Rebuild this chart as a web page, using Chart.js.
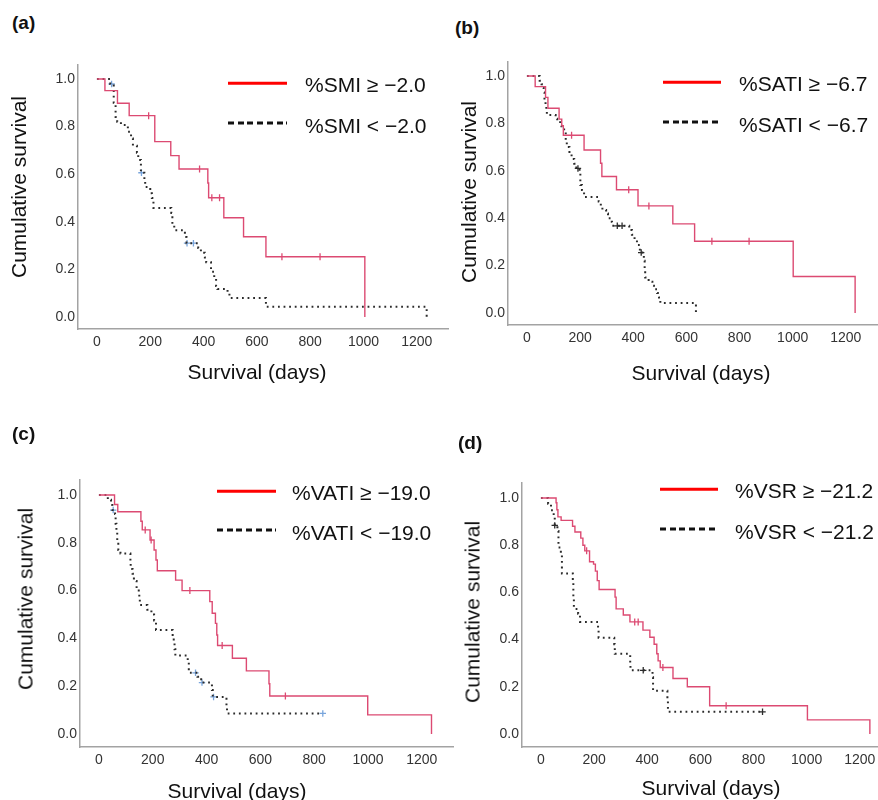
<!DOCTYPE html>
<html>
<head>
<meta charset="utf-8">
<script src="https://cdn.jsdelivr.net/npm/chart.js@4.4.0/dist/chart.umd.min.js"></script>
<style>
  body { margin: 0; background: #fff; }
  #page { position: relative; width: 878px; height: 800px; overflow: hidden;
          font-family: 'Liberation Sans', Arial, sans-serif; color: #111; }
  .panel-canvas { position: absolute; }
  .lbl { position: absolute; font-weight: bold; font-size: 19px; line-height: 1; transform: translateY(-50%); }
  .ytitle { position: absolute; font-size: 21px; line-height: 1; white-space: nowrap; transform: translate(-50%, -50%) rotate(-90deg); }
  .xtitle { position: absolute; font-size: 21px; line-height: 1; white-space: nowrap; transform: translate(-50%, -50%); }
  .legtext { position: absolute; font-size: 21px; line-height: 1; white-space: nowrap; transform: translateY(-50%); }
  .legline { position: absolute; height: 3px; transform: translateY(-50%); }
  .legline.solid { background: #ff0000; height: 2.5px; }
  .legline.dash { background: repeating-linear-gradient(90deg, #111 0 6px, transparent 6px 9.7px); }
</style>
</head>
<body>
<div id="page"></div>
<script>
// --- Axis ticks ---
const xTickValues = [0, 200, 400, 600, 800, 1000, 1200];
const yTickValues = [0, 0.2, 0.4, 0.6, 0.8, 1.0];

// --- (a) %SMI ---
const smiLabels = ['%SMI \u2265 \u22122.0', '%SMI < \u22122.0'];
const smiHighDays = [0, 30, 77, 121, 217, 277, 308, 416, 419, 476, 550, 634, 1005];
const smiHighSurv = [1.0, 0.951, 0.898, 0.846, 0.737, 0.678, 0.622, 0.563, 0.501, 0.417, 0.337, 0.253, 0.0];
const smiHighCensored = [194, 385, 431, 460, 694, 837];
const smiLowDays = [0, 50, 63, 70, 76, 90, 116, 128, 135, 150, 155, 165, 178, 181, 200, 206, 212, 279, 283, 290, 330, 336, 380, 390, 405, 410, 428, 440, 447, 452, 490, 497, 634, 1237];
const smiLowSurv = [1.0, 0.979, 0.90, 0.84, 0.82, 0.807, 0.778, 0.75, 0.72, 0.69, 0.66, 0.606, 0.58, 0.546, 0.52, 0.50, 0.458, 0.437, 0.387, 0.365, 0.336, 0.31, 0.29, 0.27, 0.25, 0.23, 0.19, 0.16, 0.13, 0.118, 0.10, 0.08, 0.043, 0.0];
const smiLowCensored = [55, 167, 338, 362];

// --- (b) %SATI ---
const satiLabels = ['%SATI \u2265 \u22126.7', '%SATI < \u22126.7'];
const satiHighDays = [0, 31, 70, 79, 121, 131, 137, 215, 277, 282, 337, 418, 549, 631, 1002, 1235];
const satiHighSurv = [1.0, 0.955, 0.91, 0.864, 0.818, 0.79, 0.75, 0.688, 0.632, 0.576, 0.52, 0.452, 0.376, 0.303, 0.154, 0.0];
const satiHighCensored = [168, 383, 459, 696, 836];
const satiLowDays = [0, 48, 55, 60, 63, 66, 70, 73, 75, 108, 114, 125, 130, 140, 146, 150, 160, 168, 178, 186, 198, 201, 207, 215, 270, 278, 284, 298, 305, 315, 320, 385, 395, 405, 414, 425, 440, 443, 445, 458, 472, 478, 490, 497, 502, 636];
const satiLowSurv = [1.0, 0.98, 0.965, 0.95, 0.93, 0.90, 0.88, 0.86, 0.835, 0.82, 0.81, 0.79, 0.78, 0.765, 0.73, 0.70, 0.675, 0.65, 0.63, 0.61, 0.59, 0.54, 0.519, 0.489, 0.47, 0.45, 0.435, 0.42, 0.40, 0.385, 0.368, 0.35, 0.33, 0.31, 0.287, 0.255, 0.22, 0.185, 0.15, 0.132, 0.115, 0.10, 0.084, 0.065, 0.042, 0.0];
const satiLowCensored = [192, 340, 358, 430];

// --- (c) %VATI ---
const vatiLabels = ['%VATI \u2265 \u221219.0', '%VATI < \u221219.0'];
const vatiHighDays = [0, 58, 70, 156, 161, 190, 205, 212, 217, 285, 309, 412, 421, 433, 438, 441, 496, 548, 632, 635, 999, 1236];
const vatiHighSurv = [1.0, 0.96, 0.93, 0.89, 0.854, 0.812, 0.77, 0.728, 0.683, 0.644, 0.60, 0.554, 0.505, 0.463, 0.414, 0.37, 0.317, 0.264, 0.21, 0.159, 0.08, 0.0];
const vatiHighCensored = [172, 194, 338, 458, 693];
const vatiLowDays = [0, 33, 45, 50, 60, 62, 65, 68, 72, 80, 117, 118, 125, 130, 140, 148, 150, 152, 180, 195, 205, 212, 274, 278, 281, 284, 330, 334, 366, 380, 420, 423, 474, 476, 832];
const vatiLowSurv = [1.0, 0.98, 0.958, 0.937, 0.92, 0.88, 0.85, 0.81, 0.77, 0.755, 0.715, 0.69, 0.67, 0.64, 0.61, 0.59, 0.565, 0.54, 0.52, 0.50, 0.475, 0.435, 0.41, 0.38, 0.355, 0.328, 0.30, 0.256, 0.24, 0.215, 0.184, 0.155, 0.12, 0.086, 0.086];
const vatiLowCensored = [53, 359, 383, 426, 832];

// --- (d) %VSR ---
const vsrLabels = ['%VSR \u2265 \u221221.2', '%VSR < \u221221.2'];
const vsrHighDays = [0, 57, 60, 64, 76, 119, 128, 150, 158, 165, 183, 198, 205, 212, 219, 279, 283, 310, 335, 384, 410, 426, 436, 441, 449, 497, 551, 635, 1003, 1238];
const vsrHighSurv = [1.0, 0.98, 0.95, 0.92, 0.905, 0.88, 0.856, 0.83, 0.80, 0.776, 0.73, 0.72, 0.69, 0.65, 0.612, 0.58, 0.53, 0.504, 0.475, 0.44, 0.41, 0.38, 0.34, 0.31, 0.282, 0.235, 0.20, 0.12, 0.06, 0.0];
const vsrHighCensored = [172, 353, 366, 459, 697];
const vsrLowDays = [0, 27, 38, 48, 52, 62, 66, 75, 79, 120, 122, 124, 140, 147, 215, 217, 276, 278, 336, 337, 420, 422, 476, 478, 834];
const vsrLowSurv = [1.0, 0.976, 0.948, 0.927, 0.884, 0.86, 0.79, 0.76, 0.68, 0.64, 0.58, 0.53, 0.51, 0.475, 0.45, 0.408, 0.38, 0.34, 0.30, 0.27, 0.24, 0.183, 0.14, 0.094, 0.094];
const vsrLowCensored = [52, 385, 834];

// --- Styles ---
const highColor = '#dc4a72';
const lowColor = '#2b2b2b';
const blueCensor = '#79a5dc';
const fontFamily = "'Liberation Sans', Arial, sans-serif";

// --- Panel layout (page pixels) ---
const panels = [
  { letter: '(a)', labels: smiLabels,
    high: [smiHighDays, smiHighSurv, smiHighCensored], low: [smiLowDays, smiLowSurv, smiLowCensored],
    lowCensorColor: blueCensor,
    box: { left: 78, top: 65, right: 450, bottom: 329, x0: 97, x1200: 418, y1: 79, y0: 317 },
    text: { lbl: [12, 22], ytitle: [18, 187], xtitle: [257, 371], leg: [228, 287, 305, 83, 123] } },
  { letter: '(b)', labels: satiLabels,
    high: [satiHighDays, satiHighSurv, satiHighCensored], low: [satiLowDays, satiLowSurv, satiLowCensored],
    lowCensorColor: lowColor,
    box: { left: 508, top: 62, right: 880, bottom: 325, x0: 527, x1200: 847, y1: 76, y0: 313 },
    text: { lbl: [455, 27], ytitle: [468, 192], xtitle: [701, 372], leg: [663, 721, 739, 82, 122] } },
  { letter: '(c)', labels: vatiLabels,
    high: [vatiHighDays, vatiHighSurv, vatiHighCensored], low: [vatiLowDays, vatiLowSurv, vatiLowCensored],
    lowCensorColor: blueCensor,
    box: { left: 80, top: 480, right: 455, bottom: 747, x0: 99, x1200: 423, y1: 495, y0: 734 },
    text: { lbl: [12, 433], ytitle: [25, 599], xtitle: [237, 790], leg: [217, 276, 292, 491, 530] } },
  { letter: '(d)', labels: vsrLabels,
    high: [vsrHighDays, vsrHighSurv, vsrHighCensored], low: [vsrLowDays, vsrLowSurv, vsrLowCensored],
    lowCensorColor: lowColor,
    box: { left: 522, top: 483, right: 880, bottom: 747, x0: 541, x1200: 861, y1: 498, y0: 734 },
    text: { lbl: [458, 442], ytitle: [472, 612], xtitle: [711, 787], leg: [660, 718, 735, 489, 529] } }
];

const page = document.getElementById('page');

const toPoints = (days, surv) => days.map((d, i) => ({ x: d, y: surv[i] }));

// survival level of a step curve at time t (for censor marks)
const survAt = (days, surv, t) => {
  let s = surv[0];
  days.forEach((d, i) => { if (d <= t) s = surv[i]; });
  return s;
};

const addText = (cls, txt, x, y) => {
  const el = document.createElement('div');
  el.className = cls;
  el.textContent = txt;
  el.style.left = x + 'px';
  el.style.top = y + 'px';
  page.appendChild(el);
};

const addLegLine = (cls, x1, x2, y) => {
  const el = document.createElement('div');
  el.className = 'legline ' + cls;
  el.style.left = x1 + 'px';
  el.style.width = (x2 - x1) + 'px';
  el.style.top = y + 'px';
  page.appendChild(el);
};

const buildPanel = (p) => {
  const yW = 60, xH = 34, padTop = 16, padRight = 4;
  const b = p.box;
  const pxPerDay = (b.x1200 - b.x0) / 1200;
  const pxPerUnit = b.y0 - b.y1;

  const canvas = document.createElement('canvas');
  const w = b.right - b.left + yW + padRight;
  const h = b.bottom - b.top + padTop + xH;
  canvas.width = w;
  canvas.height = h;
  canvas.className = 'panel-canvas';
  canvas.style.left = (b.left - yW) + 'px';
  canvas.style.top = (b.top - padTop) + 'px';
  canvas.style.width = w + 'px';
  canvas.style.height = h + 'px';
  page.appendChild(canvas);

  const [hDays, hSurv, hCens] = p.high;
  const [lDays, lSurv, lCens] = p.low;

  new Chart(canvas.getContext('2d'), {
    type: 'line',
    data: {
      datasets: [
        { label: p.labels[0], data: toPoints(hDays, hSurv), stepped: true,
          borderColor: highColor, borderWidth: 1.4, pointRadius: 0, fill: false },
        { label: p.labels[0] + ' censored', type: 'scatter',
          data: hCens.map(t => ({ x: t, y: survAt(hDays, hSurv, t) })),
          pointStyle: 'line', rotation: 90, pointRadius: 3.5, borderColor: highColor, borderWidth: 1.3 },
        { label: p.labels[1], data: toPoints(lDays, lSurv), stepped: true,
          borderColor: lowColor, borderWidth: 2, borderDash: [1.8, 3.8], pointRadius: 0, fill: false },
        { label: p.labels[1] + ' censored', type: 'scatter',
          data: lCens.map(t => ({ x: t, y: survAt(lDays, lSurv, t) })),
          pointStyle: 'cross', pointRadius: 3.2, borderColor: p.lowCensorColor, borderWidth: 1.3 }
      ]
    },
    options: {
      responsive: false,
      animation: false,
      layout: { padding: { top: padTop, right: padRight, left: 0, bottom: 0 } },
      plugins: { legend: { display: false }, tooltip: { enabled: false } },
      scales: {
        x: {
          type: 'linear',
          min: -(b.x0 - b.left) / pxPerDay,
          max: (b.right - b.x0) / pxPerDay,
          grid: { display: false, drawTicks: false },
          border: { display: true, color: '#a3a3a3', width: 1.5 },
          ticks: { padding: 5, color: '#333', font: { family: fontFamily, size: 14 },
                   callback: v => String(v) },
          afterBuildTicks: s => { s.ticks = xTickValues.map(v => ({ value: v })); },
          afterFit: s => { s.height = xH; }
        },
        y: {
          type: 'linear',
          min: -(b.bottom - b.y0) / pxPerUnit,
          max: 1 + (b.y1 - b.top) / pxPerUnit,
          grid: { display: false, drawTicks: false },
          border: { display: true, color: '#a3a3a3', width: 1.5 },
          ticks: { padding: 3, color: '#333', font: { family: fontFamily, size: 14 },
                   callback: v => v.toFixed(1) },
          afterBuildTicks: s => { s.ticks = yTickValues.map(v => ({ value: v })); },
          afterFit: s => { s.width = yW; }
        }
      }
    }
  });

  // --- Text & legend ---
  const t = p.text;
  addText('lbl', p.letter, t.lbl[0], t.lbl[1]);
  addText('ytitle', 'Cumulative survival', t.ytitle[0], t.ytitle[1]);
  addText('xtitle', 'Survival (days)', t.xtitle[0], t.xtitle[1]);
  addLegLine('solid', t.leg[0], t.leg[1], t.leg[3]);
  addLegLine('dash', t.leg[0], t.leg[1], t.leg[4]);
  addText('legtext', p.labels[0], t.leg[2], t.leg[3] + 1);
  addText('legtext', p.labels[1], t.leg[2], t.leg[4] + 2);
};

document.addEventListener('DOMContentLoaded', () => {
  panels.forEach(buildPanel);
});
</script>
</body>
</html>
